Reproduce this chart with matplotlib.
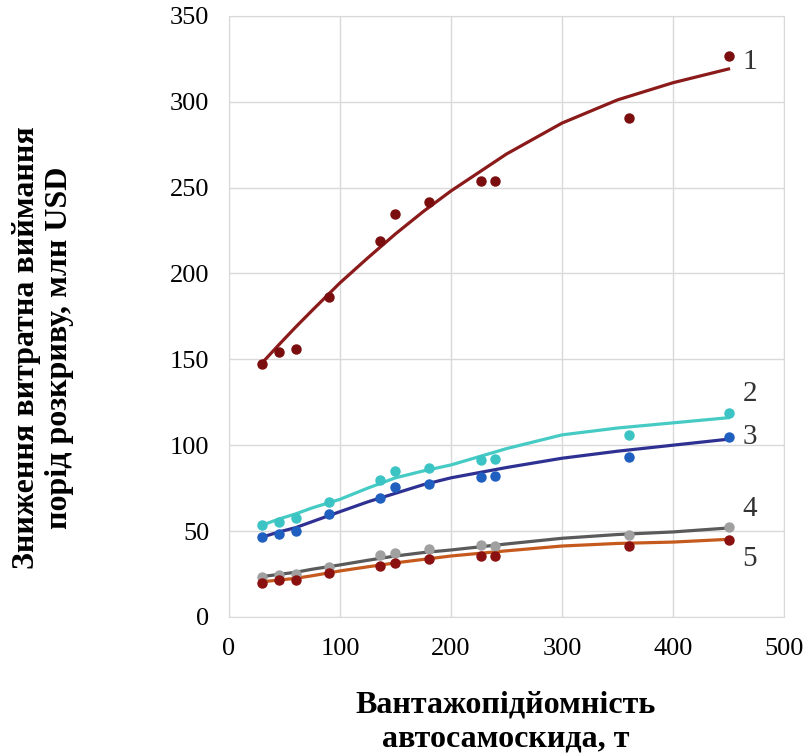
import matplotlib
matplotlib.use("Agg")
import matplotlib.pyplot as plt

# capacity of the dump truck, t
cap = [30, 45, 60, 90, 136, 150, 180, 227, 240, 360, 450]

# measured points per curve
pts1 = [147.5, 154.5, 156, 186.5, 219, 234.5, 241.5, 253.5, 254, 290.5, 326.5]
pts2 = [53.5, 55.5, 57.5, 67, 79.5, 85, 87, 91.5, 92, 106, 118.5]
pts3 = [46.5, 48.5, 50, 60, 69.5, 75.5, 77.5, 81.5, 82, 93, 104.5]
pts4 = [23.5, 24.5, 25, 29, 36, 37.5, 39.5, 42, 41.5, 47.5, 52.5]
pts5 = [19.5, 21.5, 21.5, 25.5, 29.5, 31.5, 33.5, 35.5, 35.5, 41.5, 45]

# trend lines
trend_x = [30, 45, 60, 75, 100, 125, 150, 175, 200, 250, 300, 350, 400, 450]
trend1 = [148, 158.5, 168.7, 178.5, 194.5, 209, 223, 236, 248, 269.5, 287.5, 301, 311, 319]
trend2 = [53.5, 57, 60, 63.5, 68.5, 75, 81, 85, 88.5, 98, 106, 110, 113, 116]
trend3 = [46.5, 49.5, 52, 55.5, 61.3, 67, 72, 77, 81, 87, 92.4, 96.5, 100, 103.5]
trend4 = [23.5, 24.8, 26, 27.8, 30.3, 33, 35.5, 37.5, 39, 42.5, 45.8, 48, 49.5, 51.8]
trend5 = [20.5, 21.5, 22.5, 24, 26.8, 29.2, 31.5, 33.5, 35.5, 38.5, 41.3, 42.8, 43.6, 45.2]

curve_names = ["1", "2", "3", "4", "5"]
name_y = [323, 130, 105, 63, 34]

serif = "Liberation Serif"

fig = plt.figure(figsize=(8.08, 7.56), dpi=100)
ax = fig.add_axes([0.2834, 0.1839, 0.6869, 0.7953])

series = [
    (pts1, trend1, "#7a0d0d", "#8b1a1a"),
    (pts2, trend2, "#3cc3c3", "#45cbc4"),
    (pts3, trend3, "#1f5fbf", "#2e3192"),
    (pts4, trend4, "#a0a0a0", "#5a5a5a"),
    (pts5, trend5, "#8b1010", "#c65a1e"),
]
for pts, tr, pcol, lcol in series:
    ax.plot(trend_x, tr, color=lcol, lw=2.3, zorder=3)
    ax.plot(cap, pts, "o", color=pcol, ms=6.5, zorder=4)

for name, y in zip(curve_names, name_y):
    ax.text(469, y, name, fontsize=21, family=serif, color="#333333",
            ha="center", va="center")

ax.set_xlim(0, 500)
ax.set_ylim(0, 350)
ax.set_xticks(range(0, 501, 100))
ax.set_yticks(range(0, 351, 50))
ax.grid(True, color="#d9d9d9", lw=1)
ax.set_axisbelow(True)
for s in ax.spines.values():
    s.set_color("#d9d9d9")
ax.tick_params(length=0, labelsize=19, pad=14)
ax.tick_params(axis="x", pad=15)
for lbl in ax.get_xticklabels() + ax.get_yticklabels():
    lbl.set_family(serif)

fig.text(506 / 808, 0.045, "Вантажопідйомність\nавтосамоскида, т",
         ha="center", va="center", fontsize=23, fontweight="bold",
         family=serif, linespacing=1.2)
fig.text(0.053, 0.54, "Зниження витратна виймання\nпорід розкриву, млн USD",
         ha="center", va="center", rotation=90, fontsize=23,
         fontweight="bold", family=serif, linespacing=1.2)

fig.savefig("out.png", dpi=100)
